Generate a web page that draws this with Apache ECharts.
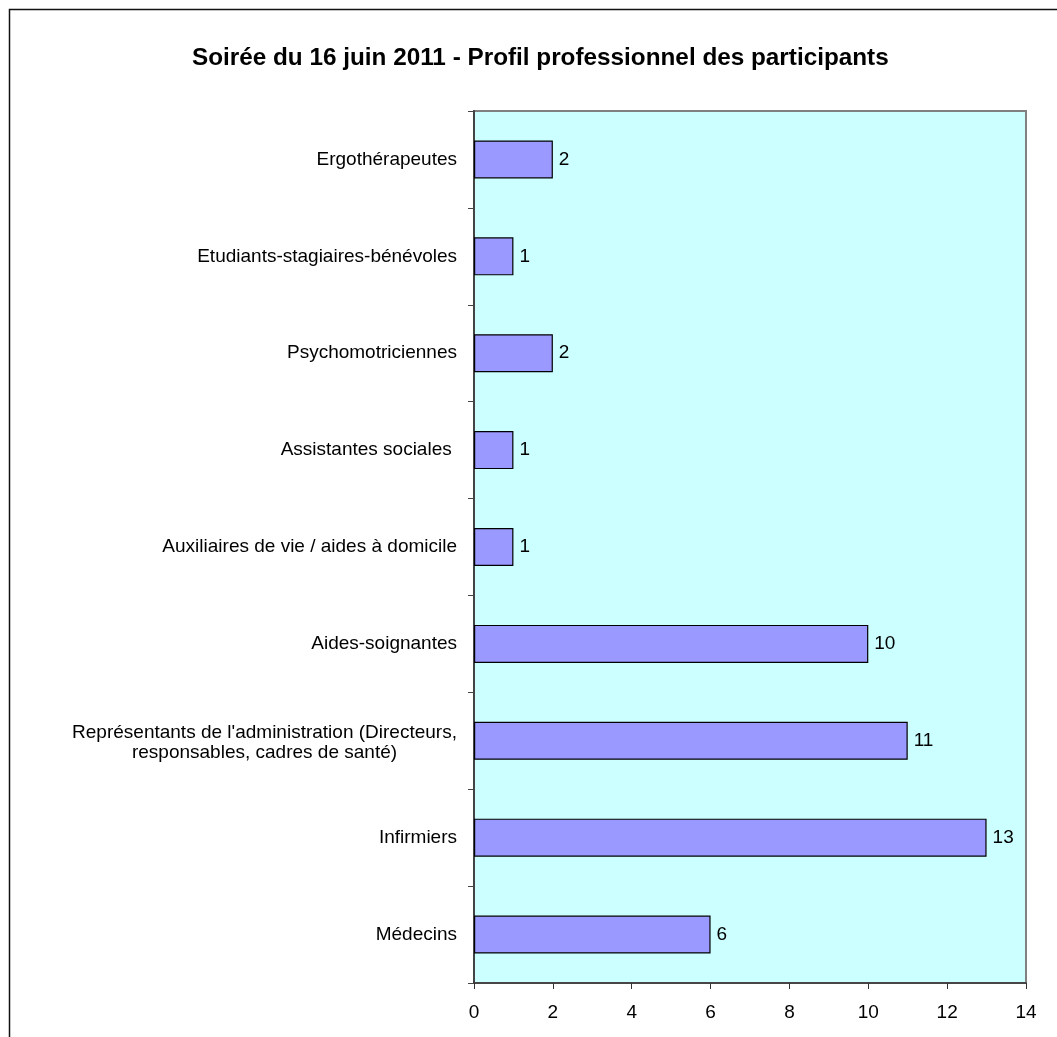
<!DOCTYPE html>
<html>
<head>
<meta charset="utf-8">
<script src="https://cdn.jsdelivr.net/npm/echarts@6/dist/echarts.min.js"></script>
<style>
html,body{margin:0;padding:0;background:#fff;}
#chart{width:1057px;height:1037px;}
</style>
</head>
<body>
<div id="chart"></div>
<script>
// Categories listed bottom-to-top (ECharts category y axis starts at bottom)
const categories = [
  "Médecins",
  "Infirmiers",
  "Représentants de l'administration (Directeurs,\nresponsables, cadres de santé)",
  "Aides-soignantes",
  "Auxiliaires de vie / aides à domicile",
  "Assistantes sociales ",
  "Psychomotriciennes",
  "Etudiants-stagiaires-bénévoles",
  "Ergothérapeutes"
];
const values = [6, 13, 11, 10, 1, 1, 2, 1, 2];
const titleText = "Soirée du 16 juin 2011 - Profil professionnel des participants";
const xMin = 0, xMax = 14, xStep = 2;

const FONT = "'Liberation Sans', Arial, sans-serif";
const LABEL_SIZE = 19;

// width of the widest line of multi-line labels, so the block stays right-aligned
function lineWidth(text) {
  const c = document.createElement('canvas').getContext('2d');
  c.font = LABEL_SIZE + "px " + FONT;
  return Math.max.apply(null, text.split('\n').map(function (s) { return c.measureText(s).width; }));
}
let multiW = 0;
categories.forEach(function (c) { if (c.indexOf('\n') >= 0) multiW = Math.max(multiW, lineWidth(c)); });

const chart = echarts.init(document.getElementById('chart'), null, {renderer: 'canvas'});
chart.setOption({
  backgroundColor: '#ffffff',
  animation: false,
  title: {
    text: titleText,
    left: 187,
    top: 41,
    textStyle: {fontFamily: FONT, fontSize: 24.3, fontWeight: 'bold', color: '#000'}
  },
  graphic: [{
    type: 'rect',
    shape: {x: 9.5, y: 9.5, width: 2000, height: 2000},
    style: {fill: 'none', stroke: '#111', lineWidth: 1.5},
    silent: true
  }],
  grid: {
    left: 474, right: 31, top: 111, bottom: 54,
    show: true,
    backgroundColor: '#CCFFFF',
    borderColor: '#808080',
    borderWidth: 2,
    containLabel: false
  },
  xAxis: {
    type: 'value',
    min: xMin, max: xMax, interval: xStep,
    splitLine: {show: false},
    axisLine: {show: true, lineStyle: {color: '#333', width: 1.5}},
    axisTick: {show: true, inside: false, length: 6, lineStyle: {color: '#333'}},
    axisLabel: {fontFamily: FONT, fontSize: LABEL_SIZE, color: '#000', margin: 20}
  },
  yAxis: {
    type: 'category',
    data: categories,
    axisLine: {show: true, lineStyle: {color: '#444', width: 2}},
    axisTick: {show: true, inside: false, length: 6, alignWithLabel: false, lineStyle: {color: '#444'}},
    axisLabel: {
      fontFamily: FONT, fontSize: LABEL_SIZE, color: '#000', margin: 17, lineHeight: 20,
      formatter: function (v) {
        if (v.indexOf('\n') >= 0) return '{c|' + v + '}';
        return v;
      },
      rich: {
        c: {fontFamily: FONT, fontSize: LABEL_SIZE, color: '#000', width: Math.ceil(multiW), align: 'center', lineHeight: 20, padding: [3, 0, 0, 0]}
      }
    }
  },
  series: [{
    type: 'bar',
    data: values,
    barWidth: 38,
    itemStyle: {color: '#9999FF', borderColor: '#000', borderWidth: 1.2},
    label: {
      show: true, position: 'right', distance: 6,
      fontFamily: FONT, fontSize: LABEL_SIZE, color: '#000'
    }
  }]
});
</script>
</body>
</html>
